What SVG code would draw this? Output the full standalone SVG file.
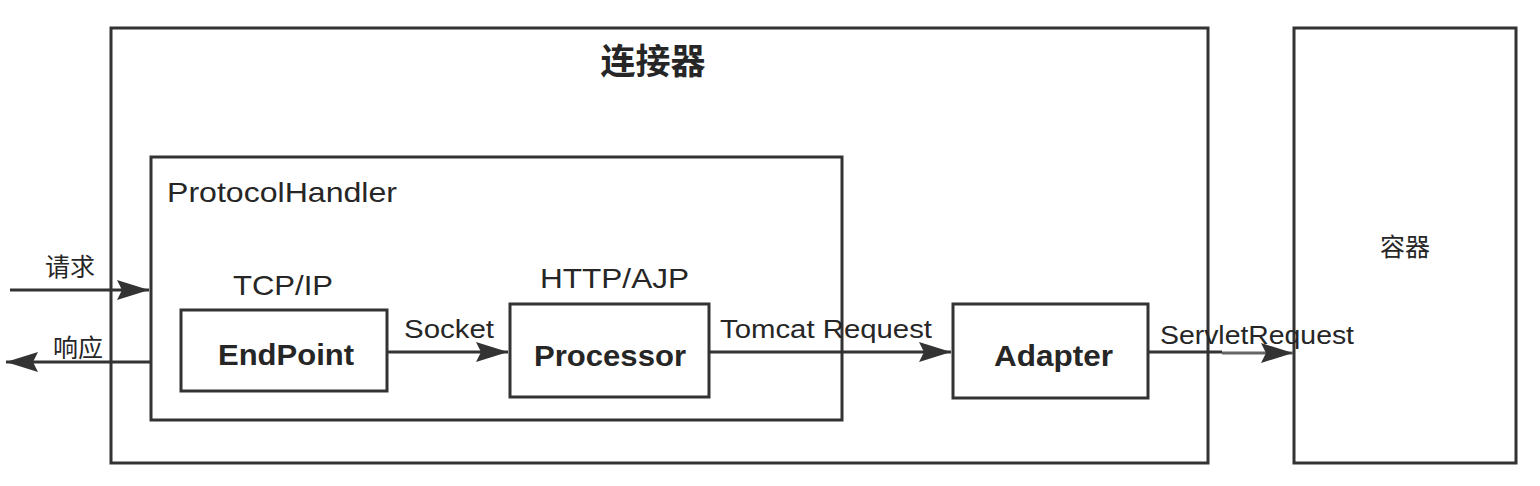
<svg xmlns="http://www.w3.org/2000/svg" width="1540" height="486" viewBox="0 0 1540 486">
<style>
.box{fill:#fff;stroke:#333;stroke-width:3}
.ln{fill:none;stroke:#333;stroke-width:3}
.t{font-family:"Liberation Sans","Noto Sans CJK SC",sans-serif;fill:#262626}
.b{font-weight:bold}
</style>
<defs>
<marker id="big" viewBox="0 0 32 20" refX="32" refY="10" markerWidth="32" markerHeight="20" markerUnits="userSpaceOnUse" orient="auto">
<path d="M0,0 L32,10 L0,20 L5,10 z" fill="#333"/>
</marker>
</defs>
<rect width="1540" height="486" fill="#fff"/>
<g id="connector">
<rect class="box" x="111" y="28" width="1097" height="435"/>
<text class="t b" x="653" y="74" font-size="35" text-anchor="middle">连接器</text>
</g>
<g id="container">
<rect class="box" x="1294" y="28" width="222" height="435"/>
<text class="t" x="1405" y="256" font-size="25" text-anchor="middle">容器</text>
</g>
<g id="protocolhandler">
<rect class="box" x="151" y="157" width="691" height="263"/>
<text class="t" x="167" y="202" font-size="28" font-weight="500" textLength="230" lengthAdjust="spacingAndGlyphs">ProtocolHandler</text>
</g>
<g id="endpoint">
<rect class="box" x="181" y="310" width="206" height="81"/>
<text class="t" x="233" y="295" font-size="28" textLength="100" lengthAdjust="spacingAndGlyphs">TCP/IP</text>
<text class="t b" x="218" y="365" font-size="30" textLength="136" lengthAdjust="spacingAndGlyphs">EndPoint</text>
</g>
<g id="processor">
<rect class="box" x="510" y="304" width="199" height="93"/>
<text class="t" x="540" y="288" font-size="28" textLength="149" lengthAdjust="spacingAndGlyphs">HTTP/AJP</text>
<text class="t b" x="534" y="366" font-size="30" textLength="152" lengthAdjust="spacingAndGlyphs">Processor</text>
</g>
<g id="adapter">
<rect class="box" x="953" y="304" width="195" height="94"/>
<text class="t b" x="994" y="366" font-size="30" textLength="119" lengthAdjust="spacingAndGlyphs">Adapter</text>
</g>
<g id="connectors">
<line class="ln" x1="10" y1="290" x2="149" y2="290" marker-end="url(#big)"/>
<line class="ln" x1="150" y1="362" x2="6" y2="362" marker-end="url(#big)"/>
<line class="ln" x1="387" y1="352" x2="508" y2="352" marker-end="url(#big)"/>
<line class="ln" x1="709" y1="352" x2="951" y2="352" marker-end="url(#big)"/>
<line class="ln" x1="1148" y1="352" x2="1222" y2="352"/>
<line x1="1222" y1="353" x2="1293" y2="353" stroke="#666" stroke-width="3" marker-end="url(#big)"/>
<text class="t" x="45" y="276" font-size="25">请求</text>
<text class="t" x="53" y="357" font-size="25">响应</text>
<text class="t" x="404" y="338" font-size="26" textLength="90" lengthAdjust="spacingAndGlyphs">Socket</text>
<text class="t" x="720" y="338" font-size="26" textLength="212" lengthAdjust="spacingAndGlyphs">Tomcat Request</text>
<text class="t" x="1160" y="344" font-size="26" textLength="194" lengthAdjust="spacingAndGlyphs">ServletRequest</text>
</g>
</svg>
